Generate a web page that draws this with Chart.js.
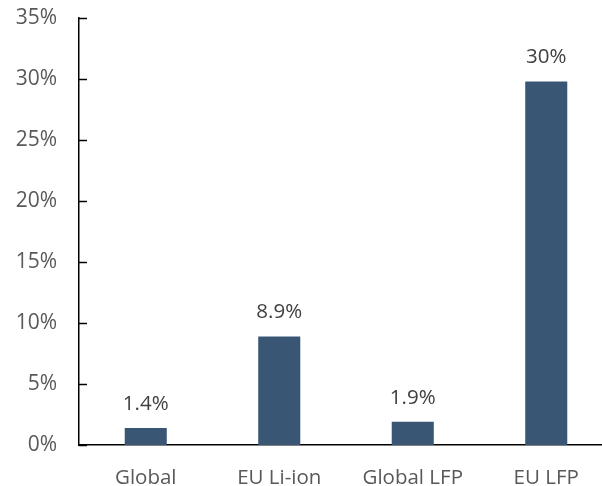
<!DOCTYPE html>
<html>
<head>
<meta charset="utf-8">
<script src="https://cdn.jsdelivr.net/npm/chart.js@4"></script>
<style>
  html, body { margin: 0; padding: 0; background: #fff; overflow: hidden; }
  #wrap { width: 613px; height: 486px; }
</style>
</head>
<body>
<div id="wrap"><canvas id="chart"></canvas></div>
<script>
const categories = ["Global", "EU Li-ion", "Global LFP", "EU LFP"];
const shares = [1.4, 8.9, 1.9, 29.8];
const shareLabels = ["1.4%", "8.9%", "1.9%", "30%"];

const font = "'Open Sans', 'Liberation Sans', sans-serif";

// labels above bars
const valueLabels = {
    id: "valueLabels",
    afterDatasetsDraw(chart) {
        const ctx = chart.ctx;
        const meta = chart.getDatasetMeta(0);
        ctx.save();
        ctx.fillStyle = "#404040";
        ctx.font = "20.5px " + font;
        ctx.textAlign = "center";
        ctx.textBaseline = "middle";
        meta.data.forEach((bar, i) => {
            ctx.fillText(shareLabels[i], bar.x, bar.y - 24);
        });
        ctx.restore();
    }
};

// short tick marks pointing into the plot
const innerTicks = {
    id: "innerTicks",
    afterDraw(chart) {
        const ctx = chart.ctx;
        const y = chart.scales.y;
        ctx.save();
        ctx.strokeStyle = "#000";
        ctx.lineWidth = 1.5;
        y.ticks.forEach(t => {
            const py = Math.round(y.getPixelForValue(t.value)) + 0.5;
            ctx.beginPath();
            ctx.moveTo(y.right, py);
            ctx.lineTo(y.right + 8, py);
            ctx.stroke();
        });
        ctx.restore();
    }
};

new Chart(document.getElementById("chart"), {
    type: "bar",
    data: {
        labels: categories,
        datasets: [{
            data: shares,
            backgroundColor: "#3a5675",
            barPercentage: 0.63,
            categoryPercentage: 0.5,
        }]
    },
    options: {
        responsive: true,
        maintainAspectRatio: false,
        animation: false,
        layout: { padding: { top: 18, right: 0, left: 0, bottom: 0 } },
        plugins: {
            legend: { display: false },
            tooltip: { enabled: false },
        },
        scales: {
            x: {
                grid: { display: false, drawTicks: false },
                border: { color: "#000", width: 1.5 },
                ticks: { color: "#595959", font: { family: font, size: 20.5 }, padding: 21 },
                afterFit: s => { s.height = 41; },
            },
            y: {
                min: 0,
                max: 35,
                grid: { display: false, drawTicks: false },
                border: { color: "#000", width: 1.5 },
                ticks: {
                    stepSize: 5,
                    color: "#595959",
                    font: { family: font, size: 21 },
                    padding: 22,
                    callback: v => v + "%",
                },
                afterFit: s => { s.width = 79; s.paddingTop = 0; s.paddingBottom = 0; },
            }
        }
    },
    plugins: [valueLabels, innerTicks]
});
</script>
</body>
</html>
